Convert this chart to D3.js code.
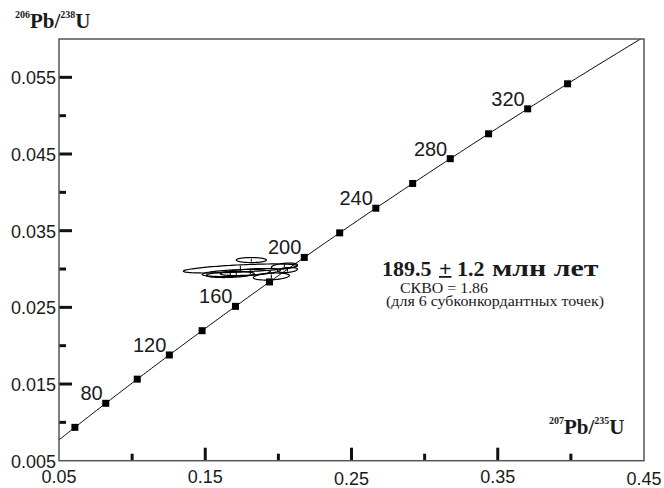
<!DOCTYPE html>
<html>
<head>
<meta charset="utf-8">
<script src="https://cdn.jsdelivr.net/npm/d3@7"></script>
<style>
  html, body { margin: 0; padding: 0; background: #fff; }
  svg { display: block; }
</style>
</head>
<body>
<svg id="chart" width="664" height="488"></svg>
<script>
// U-Pb concordia diagram: 207Pb/235U vs 206Pb/238U

// axis extents
const xDomain = [0.05, 0.45];
const yDomain = [0.005, 0.06];

// axis ticks and labels
const xTickLabels = [0.05, 0.15, 0.25, 0.35, 0.45];
const xMajorTicks = [0.15, 0.25, 0.35];
const xMinorTicks = [0.10, 0.20, 0.30, 0.40];
const yTickLabels = [0.005, 0.015, 0.025, 0.035, 0.045, 0.055];
const yMajorTicks = [0.015, 0.025, 0.035, 0.045, 0.055];
const yMinorTicks = [0.01, 0.02, 0.03, 0.04, 0.05];

// concordia age marks (Ma) and which of them are labelled
const concordiaAges = [60, 80, 100, 120, 140, 160, 180, 200, 220, 240, 260, 280, 300, 320, 340];
const labelledAges = [80, 120, 160, 200, 240, 280, 320];
const curveAgeRange = [40, 400];

// decay constants (1/yr)
const lambda238 = 1.55125e-10;
const lambda235 = 9.8485e-10;

// analyses: 207Pb/235U, 206Pb/238U, half-axes of error ellipse, error correlation
const spotX   = [0.1815, 0.1740, 0.1712, 0.1671, 0.1808, 0.1952, 0.2041, 0.2062];
const spotY   = [0.03117, 0.03007, 0.02948, 0.02928, 0.02961, 0.02902, 0.03039, 0.02987];
const spotErrX = [0.0103, 0.0390, 0.0233, 0.0164, 0.0205, 0.0123, 0.0089, 0.0068];
const spotErrY = [0.00033, 0.00059, 0.00046, 0.00039, 0.00046, 0.00046, 0.00039, 0.00033];
const spotRho = [0.0, 0.6, 0.4, 0.3, 0.5, 0.3, 0.4, 0.3];

// result text
const ageValue = "189.5";
const ageError = "1.2";
const ageUnit = "млн лет";
const mswdText = "СКВО = 1.86";
const noteText = "(для 6 субконкордантных точек)";

const svg = d3.select("#chart");
const plotLeft = 59, plotRight = 644, plotTop = 39, plotBottom = 460.7;

const x = d3.scaleLinear().domain(xDomain).range([plotLeft, plotRight]);
const y = d3.scaleLinear().domain(yDomain).range([plotBottom, plotTop]);

const ratios = t => ({
  r75: Math.exp(lambda235 * t * 1e6) - 1,
  r68: Math.exp(lambda238 * t * 1e6) - 1
});

svg.append("clipPath").attr("id", "plot-clip")
  .append("rect")
  .attr("x", plotLeft).attr("y", plotTop)
  .attr("width", plotRight - plotLeft).attr("height", plotBottom - plotTop);

const plot = svg.append("g").attr("clip-path", "url(#plot-clip)");

// concordia curve
const curveAges = d3.range(curveAgeRange[0], curveAgeRange[1] + 0.5, 1);
const line = d3.line().x(d => x(d.r75)).y(d => y(d.r68));
plot.append("path")
  .datum(curveAges.map(ratios))
  .attr("d", line)
  .attr("fill", "none")
  .attr("stroke", "#000")
  .attr("stroke-width", 1);

// age markers
const ms = 7;
plot.selectAll("rect.age")
  .data(concordiaAges)
  .join("rect")
  .attr("class", "age")
  .attr("x", t => x(ratios(t).r75) - ms / 2)
  .attr("y", t => y(ratios(t).r68) - ms / 2)
  .attr("width", ms).attr("height", ms)
  .attr("fill", "#000");

svg.selectAll("text.age")
  .data(labelledAges)
  .join("text")
  .attr("class", "age")
  .attr("x", t => x(ratios(t).r75) - 3)
  .attr("y", t => y(ratios(t).r68) - 3)
  .attr("text-anchor", "end")
  .attr("font-family", "Liberation Sans, Arial, sans-serif")
  .attr("font-size", 20)
  .attr("fill", "#1a1a1a")
  .text(t => t);

// error ellipses
const ellipsePath = i => {
  const pts = d3.range(0, 361, 3).map(a => {
    const th = a * Math.PI / 180;
    const rho = spotRho[i];
    const dx = spotErrX[i] * Math.cos(th);
    const dy = spotErrY[i] * (rho * Math.cos(th) + Math.sqrt(1 - rho * rho) * Math.sin(th));
    return [x(spotX[i] + dx), y(spotY[i] + dy)];
  });
  return d3.line()(pts) + "Z";
};
const spots = d3.range(spotX.length);
plot.selectAll("path.spot")
  .data(spots)
  .join("path")
  .attr("class", "spot")
  .attr("d", ellipsePath)
  .attr("fill", "none")
  .attr("stroke", "#000")
  .attr("stroke-width", 1.2);
plot.selectAll("line.spot")
  .data(spots)
  .join("line")
  .attr("class", "spot")
  .attr("x1", i => x(spotX[i])).attr("x2", i => x(spotX[i]))
  .attr("y1", i => y(spotY[i] - spotErrY[i] * 0.6))
  .attr("y2", i => y(spotY[i] + spotErrY[i] * 0.6))
  .attr("stroke", "#000")
  .attr("stroke-width", 1);

// ticks (drawn inward from left and bottom axes)
const tickG = svg.append("g").attr("stroke", "#111").attr("stroke-width", 3);
tickG.selectAll("line.ymaj").data(yMajorTicks).join("line")
  .attr("x1", plotLeft).attr("x2", plotLeft + 13)
  .attr("y1", d => y(d)).attr("y2", d => y(d));
tickG.selectAll("line.ymin").data(yMinorTicks).join("line")
  .attr("x1", plotLeft).attr("x2", plotLeft + 7)
  .attr("y1", d => y(d)).attr("y2", d => y(d));
tickG.selectAll("line.xmaj").data(xMajorTicks).join("line")
  .attr("x1", d => x(d)).attr("x2", d => x(d))
  .attr("y1", plotBottom).attr("y2", plotBottom - 13);
tickG.selectAll("line.xmin").data(xMinorTicks).join("line")
  .attr("x1", d => x(d)).attr("x2", d => x(d))
  .attr("y1", plotBottom).attr("y2", plotBottom - 7);

// frame
svg.append("rect")
  .attr("x", plotLeft).attr("y", plotTop)
  .attr("width", plotRight - plotLeft).attr("height", plotBottom - plotTop)
  .attr("fill", "none")
  .attr("stroke", "#555")
  .attr("stroke-width", 1.5);

// tick labels
const tickFont = "Liberation Sans, Arial, sans-serif";
svg.selectAll("text.ylab").data(yTickLabels).join("text")
  .attr("class", "ylab")
  .attr("x", plotLeft - 3)
  .attr("y", d => y(d) + 7)
  .attr("text-anchor", "end")
  .attr("font-family", tickFont)
  .attr("font-size", 18)
  .attr("fill", "#1a1a1a")
  .text(d3.format(".3f"));

svg.selectAll("text.xlab").data(xTickLabels).join("text")
  .attr("class", "xlab")
  .attr("x", d => x(d))
  .attr("y", (d, i) => i % 2 === 0 && i > 0 ? 485 : 482.5)
  .attr("text-anchor", "middle")
  .attr("font-family", tickFont)
  .attr("font-size", 18)
  .attr("fill", "#1a1a1a")
  .text(d3.format(".2f"));

// axis titles
const serif = "Liberation Serif, Times New Roman, serif";
function ratioTitle(xPos, yPos, supA, supB) {
  const t = svg.append("text")
    .attr("x", xPos).attr("y", yPos)
    .attr("font-family", serif)
    .attr("font-weight", "bold")
    .attr("font-size", 21)
    .attr("fill", "#1a1a1a");
  t.append("tspan").attr("font-size", 10).attr("dy", -10).text(supA);
  t.append("tspan").attr("dy", 10).text("Pb/");
  t.append("tspan").attr("font-size", 10).attr("dy", -10).text(supB);
  t.append("tspan").attr("dy", 10).text("U");
}
ratioTitle(15, 28, "206", "238");
ratioTitle(549, 434, "207", "235");

// age result
const annG = svg.append("g")
  .attr("font-family", serif)
  .attr("font-weight", "bold")
  .attr("fill", "#1a1a1a");
annG.append("text").attr("x", 382).attr("y", 276).attr("font-size", 22).text(ageValue);
annG.append("text").attr("x", 439).attr("y", 276).attr("font-size", 22).text("+");
annG.append("rect").attr("x", 439).attr("y", 276).attr("width", 12.5).attr("height", 1.8);
annG.append("text").attr("x", 457).attr("y", 276).attr("font-size", 22).text(ageError);
annG.append("text")
  .attr("transform", "translate(492,276) scale(1.3,1)")
  .attr("font-size", 23)
  .text(ageUnit);

svg.append("text")
  .attr("x", 400).attr("y", 292.5)
  .attr("font-family", serif)
  .attr("font-size", 15.5)
  .attr("textLength", 88).attr("lengthAdjust", "spacingAndGlyphs")
  .attr("fill", "#1a1a1a")
  .text(mswdText);

svg.append("text")
  .attr("x", 386).attr("y", 306)
  .attr("font-family", serif)
  .attr("font-size", 15)
  .attr("textLength", 218).attr("lengthAdjust", "spacingAndGlyphs")
  .attr("fill", "#1a1a1a")
  .text(noteText);
</script>
</body>
</html>
